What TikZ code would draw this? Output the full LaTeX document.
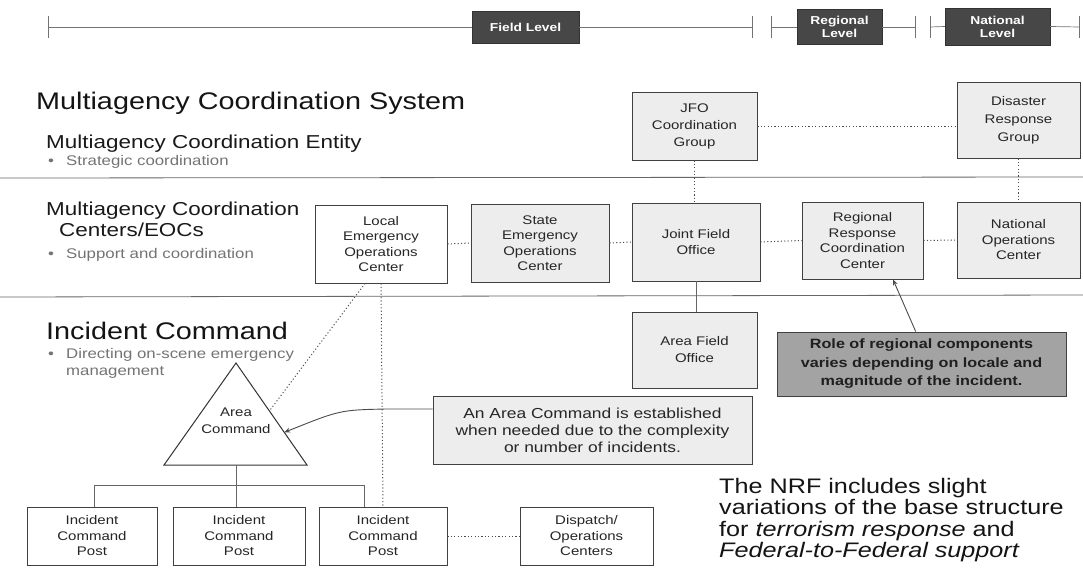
\documentclass[tikz,border=0pt]{standalone}
\usepackage{fontspec}
\setmainfont{Liberation Sans}[FakeStretch=1.2]
\usetikzlibrary{arrows.meta,calc}
\begin{document}
\begin{tikzpicture}[x=1pt,y=-1pt,
  bx/.style={draw=black!75, line width=0.9pt, fill=#1, align=center, inner sep=0pt,
    text=black!85, font=\fontsize{12.5}{15.5}\selectfont},
  bx/.default=white,
  lvl/.style={fill=black!72, draw=black!80, text=white, align=center, inner sep=0pt,
    font=\bfseries\fontsize{11.5}{13}\selectfont},
  tl/.style={draw=black!55, line width=0.7pt},
  dotc/.style={draw=black!70, line width=1pt, dash pattern=on 1.1pt off 2.3pt},
  sep/.style={draw=black!60, line width=0.8pt},
  gl/.style={draw=black!60, line width=0.9pt},
  head/.style={anchor=base west, inner sep=0pt, text=black!92, font=\fontsize{24}{26}\selectfont},
  sub/.style={anchor=base west, inner sep=0pt, text=black!90, font=\fontsize{18.7}{20}\selectfont},
  bul/.style={anchor=base west, inner sep=0pt, text=black!55, font=\fontsize{14}{15}\selectfont},
]
\useasboundingbox (0,0) rectangle (1083,567);

% ---------- timeline ----------
\coordinate (t0) at (48,27);
\coordinate (t1) at (752,27);
\coordinate (t2) at (771,27);
\coordinate (t3) at (915,27);
\coordinate (t4) at (930,27);
\coordinate (t5) at (1079,27);
\node[lvl, minimum width=107, minimum height=32] (field) at (525.5,27) {Field Level};
\node[lvl, minimum width=85, minimum height=35] (reglvl) at (839.5,27) {Regional\\Level};
\node[lvl, minimum width=105, minimum height=37] (natlvl) at (997.5,26.5) {National\\Level};
\draw[tl] (t0) -- (field.west);
\draw[tl] (field.east) -- (t1);
\draw[tl] (t2) -- (reglvl.west);
\draw[tl] (reglvl.east) -- (t3);
\draw[tl] (t4) -- (natlvl.west);
\draw[tl] (natlvl.east) -- (t5);
\foreach \t in {t0,t1,t2,t3,t4,t5} \draw[tl] ($(\t)+(0,-11)$) -- ($(\t)+(0,11)$);

% ---------- section texts ----------
\node[head] (mcs) at (36,110) {Multiagency Coordination System};
\node[sub] (mce) at (46,148) {Multiagency Coordination Entity};
\node[bul] (b1) at (48,165) {\textbullet};
\node[bul] (b1t) at (66,165) {Strategic coordination};

\node[sub] (mcc1) at (46,215) {Multiagency Coordination};
\node[sub] (mcc2) at (59,236) {Centers/EOCs};
\node[bul] (b2) at (48,258) {\textbullet};
\node[bul] (b2t) at (66,258) {Support and coordination};

\node[head] (ic) at (46,339) {Incident Command};
\node[bul] (b3) at (48,358) {\textbullet};
\node[bul] (b3t) at (66,358) {Directing on-scene emergency};
\node[bul] (b3u) at (66,375) {management};

% separators
\coordinate (s1a) at (0,178);  \coordinate (s1b) at (1083,177);
\coordinate (s2a) at (0,297);  \coordinate (s2b) at (1083,295);
\draw[sep] (s1a) -- (s1b);
\draw[sep] (s2a) -- (s2b);

% ---------- top row ----------
\node[bx=black!7, minimum width=125, minimum height=68, font=\fontsize{12.5}{17}\selectfont]
  (jfoc) at (694.5,126) {JFO\\Coordination\\Group};
\node[bx=black!7, minimum width=123, minimum height=76, font=\fontsize{12.5}{18}\selectfont]
  (drg) at (1018.5,120) {Disaster\\Response\\Group};

% ---------- middle row ----------
\node[bx, minimum width=132, minimum height=78] (leoc) at (381,244) {Local\\Emergency\\Operations\\Center};
\node[bx=black!7, minimum width=138, minimum height=78] (seoc) at (540,243) {State\\Emergency\\Operations\\Center};
\node[bx=black!7, minimum width=128, minimum height=78, font=\fontsize{12.5}{16}\selectfont] (jfo) at (696,242) {Joint Field\\Office};
\node[bx=black!7, minimum width=121, minimum height=77] (rrcc) at (862.5,240.5) {Regional\\Response\\Coordination\\Center};
\node[bx=black!7, minimum width=123, minimum height=76] (noc) at (1018.5,240) {National\\Operations\\Center};

% ---------- lower part ----------
\node[bx=black!7, minimum width=125, minimum height=76, font=\fontsize{12.5}{17}\selectfont] (afo) at (694.5,350) {Area Field\\Office};
\node[bx=black!36, minimum width=289, minimum height=64, text=black!88,
  font=\bfseries\fontsize{13.5}{18.5}\selectfont] (note) at (921.5,364)
  {Role of regional components\\varies depending on locale and\\magnitude of the incident.};
\node[bx=black!7, minimum width=319, minimum height=68, font=\fontsize{14.5}{17}\selectfont] (acn) at (592.5,430)
  {An Area Command is established\\when needed due to the complexity\\or number of incidents.};

% triangle
\coordinate (triA) at (236,363);
\coordinate (triL) at (164,465);
\coordinate (triR) at (307,465);
\draw[draw=black!80, line width=1pt, fill=white] (triA) -- (triL) -- (triR) -- cycle;
\node[align=center, inner sep=0pt, text=black!85, font=\fontsize{12.5}{17}\selectfont] (ac) at (236,421) {Area\\Command};
\coordinate (triB) at (236,465);
\coordinate (triP1) at ($(triA)!0.47!(triR)$);
\coordinate (triP2) at ($(triA)!0.68!(triR)$);

% incident command posts
\node[bx, minimum width=130, minimum height=58] (icp1) at (92,536) {Incident\\Command\\Post};
\node[bx, minimum width=132, minimum height=58] (icp2) at (239,536) {Incident\\Command\\Post};
\node[bx, minimum width=128, minimum height=58] (icp3) at (383,536) {Incident\\Command\\Post};
\node[bx, minimum width=133, minimum height=58] (disp) at (586.5,536) {Dispatch/\\Operations\\Centers};

\node[anchor=north west, align=left, inner sep=0pt, text=black!92,
  font=\fontsize{21}{21.3}\selectfont] (nrf) at (719,478)
  {The NRF includes slight\\variations of the base structure\\for \textit{terrorism response} and\\\textit{Federal-to-Federal support}};

% ---------- connectors ----------
\draw[dotc] (jfoc.east) -- (jfoc.east -| drg.west);
\draw[dotc] (jfoc.south) -- (jfoc.south |- jfo.north);
\draw[dotc] (drg.south) -- (drg.south |- noc.north);
\draw[dotc] (leoc.east) -- (seoc.west);
\draw[dotc] (seoc.east) -- (jfo.west);
\draw[dotc] (jfo.east) -- (rrcc.west);
\draw[dotc] (rrcc.east) -- (noc.west);
\draw[gl] (jfo.south) -- (jfo.south |- afo.north);
\draw[dotc] ($(leoc.south west)!0.38!(leoc.south east)$) -- (triP1);
\draw[dotc] (leoc.south) -- (icp3.north);
\draw[dotc] (icp3.east) -- (disp.west);
\draw[draw=black!70, line width=0.9pt, -{Stealth[length=6pt,width=5pt]}]
  ($(note.north west)!0.48!(note.north east)$) -- ($(rrcc.south west)!0.75!(rrcc.south east)$);
\draw[draw=black!70, line width=0.9pt, -{Stealth[length=6pt,width=5pt]}]
  (acn.west |- 0,409) -- (386,409) .. controls (340,410) .. (triP2);
% bracket
\coordinate (brL) at (94,485);
\coordinate (brR) at (364,485);
\draw[gl] (triB) -- (triB |- brL);
\draw[gl] (brL) -- (brR);
\draw[gl] (brL) -- (brL |- icp1.north);
\draw[gl] (triB |- brL) -- (triB |- icp2.north);
\draw[gl] (brR) -- (brR |- icp3.north);
\end{tikzpicture}
\end{document}
